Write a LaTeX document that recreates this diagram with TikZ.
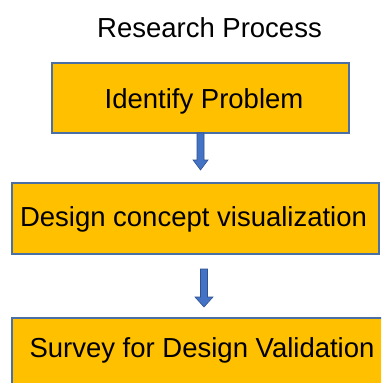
\documentclass[tikz,border=0pt]{standalone}
\usepackage{fontspec}
\setmainfont{Liberation Sans}
\usetikzlibrary{calc}
\definecolor{boxfill}{HTML}{FFC000}
\definecolor{boxline}{HTML}{4A6FA5}
\definecolor{arrfill}{HTML}{4472C4}
\definecolor{arrline}{HTML}{2F528F}
\tikzset{
  procbox/.style={draw=boxline, line width=1.5pt, fill=boxfill, rectangle, inner sep=0pt, outer sep=0pt, anchor=north west},
  boxtext/.style={anchor=base, inner sep=0pt, font=\fontsize{27.5}{30}\selectfont},
  blockarrow/.style={fill=arrfill, draw=arrline, line width=0.6pt, line join=miter}
}
\begin{document}
\begin{tikzpicture}[x=1pt, y=-1pt]
\useasboundingbox (0,0) rectangle (381,383);
\clip (0,0) rectangle (381,383);
\fill[white] (0,0) rectangle (381,383);
% title
\node[boxtext] (title) at (209.5,37) {Research Process};
% boxes
\node[procbox, minimum width=297pt, minimum height=70pt] (box1) at (52,63) {};
\node[boxtext] (t1) at (204,108) {Identify Problem};
\node[procbox, minimum width=367pt, minimum height=71pt] (box2) at (12,183) {};
\node[boxtext] (t2) at (193.5,226.7) {Design concept visualization};
\node[procbox, minimum width=382pt, minimum height=80pt] (box3) at (12,318) {};
\node[boxtext] (t3) at (202,357) {Survey for Design Validation};
% arrow 1
\coordinate (a1e) at (200.5,170);
\coordinate (a1s) at (a1e |- box1.south);
\draw[blockarrow] ($(a1s)+(-3.5,0)$) -- ($(a1e)+(-3.5,-10)$) -- ($(a1e)+(-7.5,-10)$)
  -- (a1e) -- ($(a1e)+(7.5,-10)$) -- ($(a1e)+(3.5,-10)$) -- ($(a1s)+(3.5,0)$) -- cycle;
% arrow 2
\coordinate (a2e) at (204,307);
\coordinate (a2s) at ($(a2e |- box2.south)+(0,15)$);
\draw[blockarrow] ($(a2s)+(-3.5,0)$) -- ($(a2e)+(-3.5,-10)$) -- ($(a2e)+(-9,-10)$)
  -- (a2e) -- ($(a2e)+(9,-10)$) -- ($(a2e)+(3.5,-10)$) -- ($(a2s)+(3.5,0)$) -- cycle;
\end{tikzpicture}
\end{document}
